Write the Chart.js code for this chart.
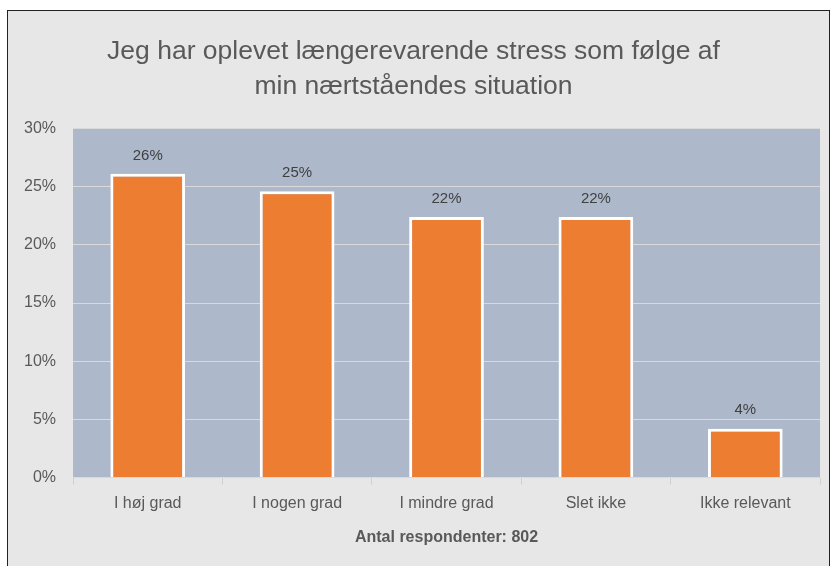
<!DOCTYPE html>
<html lang="da">
<head>
  <meta charset="UTF-8" />
  <title>Stress</title>
  <script src="https://cdn.jsdelivr.net/npm/chart.js"></script>
  <style>
    html, body { margin: 0; padding: 0; background: #fff; }
    .frame {
      position: absolute;
      left: 7px; top: 10px;
      width: 821px; height: 570px;
      border: 1px solid #222;
      background: #e7e7e7;
    }
    canvas { position: absolute; left: 0; top: 0; }
  </style>
</head>
<body>
  <div class="frame"></div>
  <canvas id="c" width="832" height="566"></canvas>
  <script>
    const categories = ["I høj grad", "I nogen grad", "I mindre grad", "Slet ikke", "Ikke relevant"];
    const shares = [26.1, 24.6, 22.4, 22.4, 4.2];
    const labels = ["26%", "25%", "22%", "22%", "4%"];

    const fontFam = "'Liberation Sans', Arial, sans-serif";

    // blue-grey plot background
    const plotBg = {
      id: "plotBg",
      beforeDraw(chart) {
        const a = chart.chartArea, ctx = chart.ctx;
        ctx.save();
        ctx.fillStyle = "#adb9ca";
        ctx.fillRect(a.left, a.top, a.right - a.left, a.bottom - a.top);
        ctx.restore();
      }
    };

    // value labels above bars
    const valueLabels = {
      id: "valueLabels",
      afterDatasetsDraw(chart) {
        const ctx = chart.ctx;
        const meta = chart.getDatasetMeta(0);
        ctx.save();
        ctx.font = "15px " + fontFam;
        ctx.fillStyle = "#404040";
        ctx.textAlign = "center";
        ctx.textBaseline = "bottom";
        meta.data.forEach((bar, i) => {
          ctx.fillText(labels[i], bar.x, bar.y - 11);
        });
        ctx.restore();
      }
    };

    new Chart(document.getElementById("c"), {
      type: "bar",
      data: {
        labels: categories,
        datasets: [{
          data: shares,
          backgroundColor: "#ed7d31",
          borderColor: "#ffffff",
          borderWidth: 3,
          categoryPercentage: 1,
          barPercentage: 0.5
        }]
      },
      options: {
        responsive: false,
        animation: false,
        layout: { padding: { left: 7, right: 12, top: 0, bottom: 19 } },
        plugins: {
          legend: { display: false },
          tooltip: { enabled: false },
          title: {
            display: true,
            text: ["Jeg har oplevet længerevarende stress som følge af", "min nærtståendes situation"],
            color: "#595959",
            font: { family: fontFam, size: 26.5, weight: "normal", lineHeight: 1.33 },
            padding: { top: 34, bottom: 24 }
          }
        },
        scales: {
          x: {
            grid: { display: true, drawOnChartArea: false, offset: true, color: "#d0d0d0", tickLength: 7 },
            border: { display: false },
            ticks: { color: "#595959", font: { family: fontFam, size: 16 }, padding: 9 },
            title: {
              display: true,
              text: "Antal respondenter: 802",
              color: "#595959",
              font: { family: fontFam, size: 16, weight: "bold" },
              padding: { top: 6, bottom: 0 }
            }
          },
          y: {
            min: 0, max: 30,
            grid: { color: "#d9d9d9", drawTicks: false },
            border: { display: false },
            ticks: {
              stepSize: 5,
              color: "#595959",
              font: { family: fontFam, size: 16 },
              padding: 17,
              callback: v => v + "%"
            }
          }
        }
      },
      plugins: [plotBg, valueLabels]
    });
  </script>
</body>
</html>
